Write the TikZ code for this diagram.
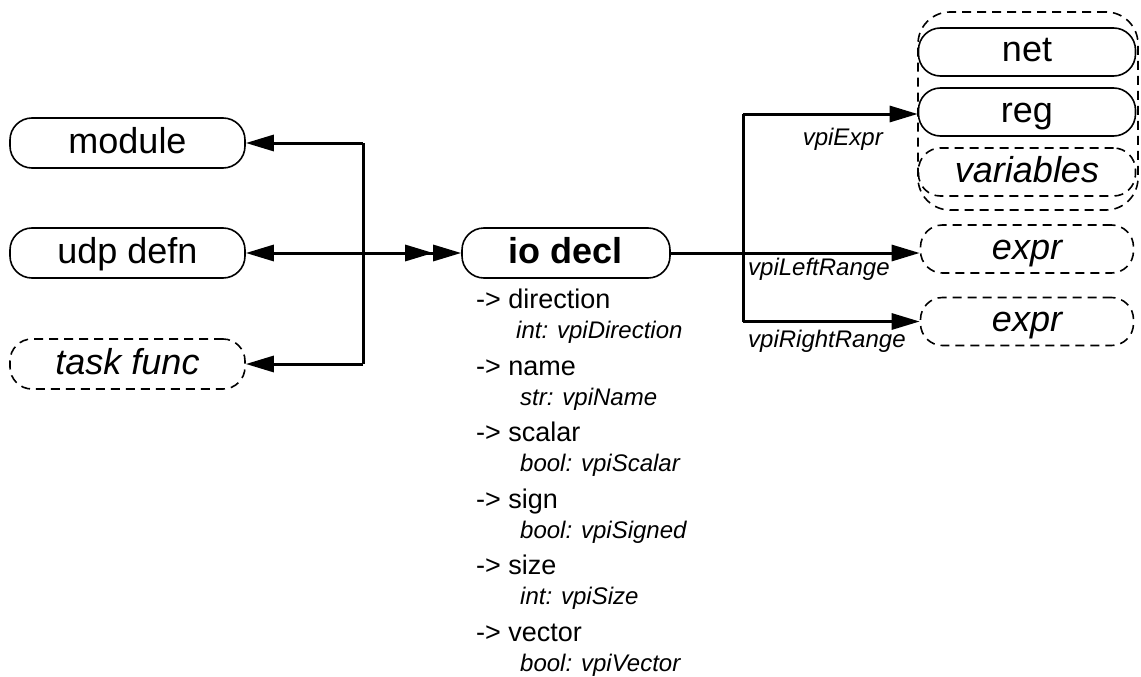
\documentclass[tikz,border=0pt]{standalone}
\usepackage{fontspec}
\setmainfont{Liberation Sans}
\usetikzlibrary{arrows.meta}
\begin{document}
\begin{tikzpicture}[x=1pt,y=-1pt,
  obj/.style={draw,line width=1.6pt,rounded corners=22pt,minimum height=50pt,
    inner sep=0pt,text height=28pt,text depth=8pt,font=\fontsize{36}{40}\selectfont},
  dsh/.style={dash pattern=on 9pt off 6pt},
  arr/.style={line width=3pt,-{Triangle[length=28pt,width=16pt]}},
  darr/.style={line width=3pt,-{Triangle[length=28pt,width=16pt]Triangle[length=28pt,width=16pt]}},
  ln/.style={line width=3pt},
  lbl/.style={inner sep=0pt,font=\fontsize{24}{28}\selectfont\itshape},
  attr/.style={inner sep=0pt,anchor=base west,font=\fontsize{27}{30}\selectfont},
  attri/.style={inner sep=0pt,anchor=base west,font=\fontsize{24}{28}\selectfont\itshape}]
\useasboundingbox (0,0) rectangle (1141,677);

% left nodes
\node[obj,minimum width=235pt] (module) at (127.5,143) {module};
\node[obj,minimum width=235pt] (udp) at (127.5,253) {udp defn};
\node[obj,dsh,minimum width=235pt,font=\fontsize{36}{40}\selectfont\itshape] (task) at (127.5,364) {task func};

% central node
\node[obj,minimum width=208pt,font=\fontsize{36}{40}\selectfont\bfseries] (io) at (566,253) {io decl};

% right group
\node[draw,dsh,line width=1.6pt,rounded corners=32pt,minimum width=220pt,minimum height=198pt] (grp) at (1028,111) {};
\node[obj,minimum width=217pt,minimum height=48pt] (net) at (1027,52) {net};
\node[obj,minimum width=217pt,minimum height=48pt] (reg) at (1027,112) {reg};
\node[obj,dsh,minimum width=217pt,minimum height=48pt,font=\fontsize{36}{40}\selectfont\itshape] (vars) at (1027,172) {variables};
\node[obj,dsh,minimum width=213pt,minimum height=48pt,font=\fontsize{36}{40}\selectfont\itshape] (expr1) at (1027,249) {expr};
\node[obj,dsh,minimum width=213pt,minimum height=48pt,font=\fontsize{36}{40}\selectfont\itshape] (expr2) at (1027,321.5) {expr};

% junctions
\coordinate (ltop) at (363,143);
\coordinate (lmid) at (363,253);
\coordinate (lbot) at (363,364);
\coordinate (rtop) at (743,114);
\coordinate (rbot) at (743,321.5);

\draw[ln] (ltop) -- (lbot);
\draw[arr] (ltop) -- (module);
\draw[arr] (lmid) -- (udp);
\draw[arr] (lbot) -- (task);
\draw[darr] (lmid) -- (io);

\draw[ln] (rtop) -- (rbot);
\draw[arr] (io.east) -- (io.east -| expr1.west);
\draw[arr] (rtop) -- (reg.west |- rtop);
\draw[arr] (rbot) -- (expr2);

% edge labels
\node[lbl,anchor=base east] (l1) at (883,145) {vpiExpr};
\node[lbl,anchor=base west] (l2) at (748,275) {vpiLeftRange};
\node[lbl,anchor=base west] (l3) at (748,347) {vpiRightRange};

% attributes
\node[attr] (a1) at (476,308) {-> direction};
\node[attri] (b1) at (516,338) {int: vpiDirection};
\node[attr] (a2) at (476,375) {-> name};
\node[attri] (b2) at (520,405) {str: vpiName};
\node[attr] (a3) at (476,441) {-> scalar};
\node[attri] (b3) at (520,471) {bool: vpiScalar};
\node[attr] (a4) at (476,508) {-> sign};
\node[attri] (b4) at (520,538) {bool: vpiSigned};
\node[attr] (a5) at (476,574) {-> size};
\node[attri] (b5) at (520,604) {int: vpiSize};
\node[attr] (a6) at (476,641) {-> vector};
\node[attri] (b6) at (520,671) {bool: vpiVector};
\end{tikzpicture}
\end{document}
